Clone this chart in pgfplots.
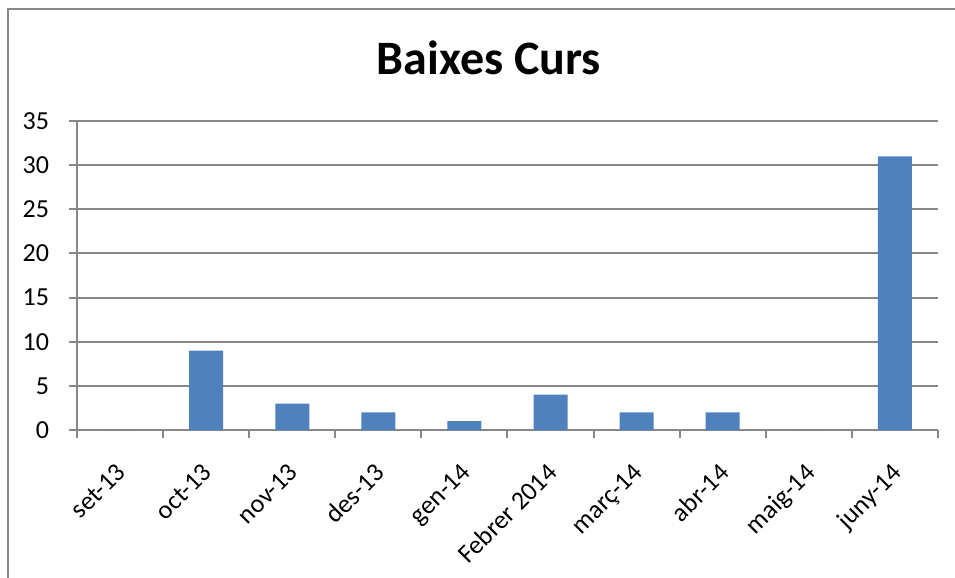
\documentclass[border=0pt]{standalone}
\usepackage{pgfplots}
\pgfplotsset{compat=1.18}
\usepackage{fontspec}
\setmainfont{Carlito}
\definecolor{barblue}{HTML}{4F81BD}
\definecolor{gridgray}{HTML}{878787}
\begin{document}
\begin{tikzpicture}
\useasboundingbox (0,0) rectangle (477.5pt,-289pt);
\draw[gridgray, line width=1pt] (4pt,-289pt) -- (4pt,-4.5pt) -- (477.5pt,-4.5pt);
\node[font=\fontsize{24}{28}\selectfont\bfseries] at (244.5pt,-29pt) {Baixes Curs};
\begin{axis}[
 at={(38.5pt,-215pt)}, anchor=south west,
 width=430.5pt, height=154.5pt, scale only axis,
 ybar, bar width=17pt,
 xmin=-0.5, xmax=9.5, ymin=0, ymax=35,
 ytick={0,5,...,35},
 xtick={0,...,9},
 xticklabels={set-13, oct-13, nov-13, des-13, gen-14, Febrer 2014, març-14, abr-14, maig-14, juny-14},
 minor xtick={-0.5,0.5,...,9.5},
 axis lines*=left,
 axis line style={gridgray, line width=1pt},
 ymajorgrids, grid style={gridgray, line width=1pt},
 tick align=outside,
 major tick length=4pt, minor tick length=4pt,
 major x tick style={draw=none},
 minor x tick style={gridgray, line width=1pt},
 major y tick style={gridgray, line width=1pt},
 xticklabel style={rotate=45, anchor=north east, font=\fontsize{13}{15}\selectfont, inner sep=1pt, xshift=-9pt, yshift=-5.5pt},
 yticklabel style={font=\fontsize{13}{15}\selectfont, xshift=-6.5pt},
 /pgf/number format/assume math mode=true,
]
\addplot[fill=barblue, draw=none] coordinates {(0,0) (1,9) (2,3) (3,2) (4,1) (5,4) (6,2) (7,2) (8,0) (9,31)};
\end{axis}
\end{tikzpicture}
\end{document}
